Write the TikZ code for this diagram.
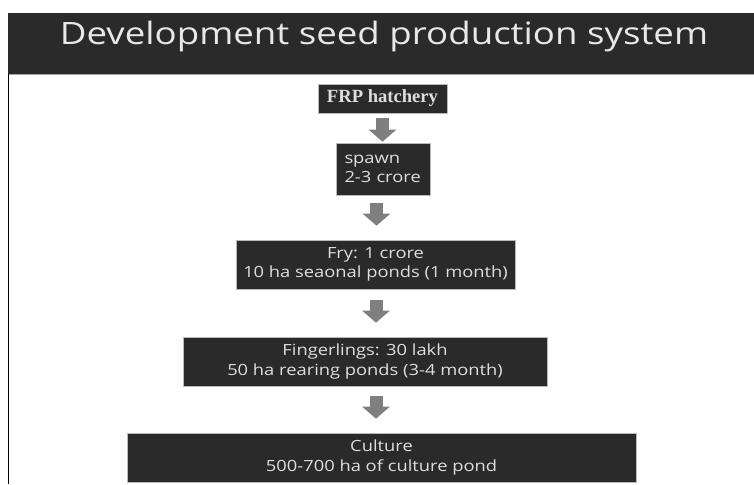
\documentclass[tikz,border=0pt]{standalone}
\usepackage{fontspec}
\setmainfont{Open Sans}
\newfontfamily\osw[FakeStretch=1.19]{Open Sans}
\newfontfamily\serifb{Liberation Serif}
\usetikzlibrary{arrows.meta,calc}
\definecolor{boxfill}{HTML}{2B2A2B}
\definecolor{boxtext}{HTML}{DEDEDE}
\definecolor{arrowgray}{HTML}{7F7F7F}
\definecolor{titletext}{HTML}{E8E8E8}
\begin{document}
\begin{tikzpicture}[x=1pt,y=-1pt,
  stagebox/.style={draw=gray!55, line width=0.6pt, fill=boxfill, text=boxtext,
    inner sep=0pt, font=\osw\fontsize{15.4}{19.5}\selectfont, align=center},
  blockarr/.style={draw=arrowgray, line width=13pt,
    -{Triangle[width=27pt,length=12pt]}}
]
\useasboundingbox (0,0) rectangle (754,484);
\fill[white] (0,0) rectangle (754,484);
% title bar
\fill[boxfill] (8,13) rectangle (754,74);
\draw[gray!70, line width=0.8pt] (8,74) -- (754,74);
\draw[black, line width=1.1pt] (8.5,74) -- (8.5,484);
\node[anchor=base, text=titletext, inner sep=0pt,
  font=\osw\fontsize{30.8}{36}\selectfont] (title) at (384,45)
  {Development seed production system};
% boxes
\node[stagebox, minimum width=129pt, minimum height=29pt,
  font=\serifb\bfseries\fontsize{18.6}{22}\selectfont] (frp) at (382.5,98.5) {FRP hatchery};
\node[stagebox, align=left, text width=77pt, inner xsep=8.5pt,
  minimum height=52pt] (spawn) at (383,169) {spawn\\2-3 crore};
\node[stagebox, minimum width=279pt, minimum height=49pt] (fry) at (375.5,264.5)
  {Fry: 1 crore\\10 ha seaonal ponds (1 month)};
\node[stagebox, minimum width=364pt, minimum height=49pt] (fing) at (365,361.5)
  {Fingerlings: 30 lakh\\50 ha rearing ponds (3-4 month)};
\node[stagebox, minimum width=509pt, minimum height=49pt] (cult) at (381.5,457.5)
  {Culture\\500-700 ha of culture pond};
% arrows
\draw[blockarr] ($(frp.south)+(0,4.5)$) -- ($(frp.south |- spawn.north)+(0,-1)$);
\draw[blockarr] ($(fry.north |- spawn.south)+(1,8)$) -- ($(fry.north)+(1,-14)$);
\draw[blockarr] ($(fry.south)+(0.5,11)$) -- ($(fry.south |- fing.north)+(0.5,-14)$);
\draw[blockarr] ($(fry.south |- fing.south)+(0.5,10)$) -- ($(fry.south |- cult.north)+(0.5,-14)$);
\end{tikzpicture}
\end{document}
